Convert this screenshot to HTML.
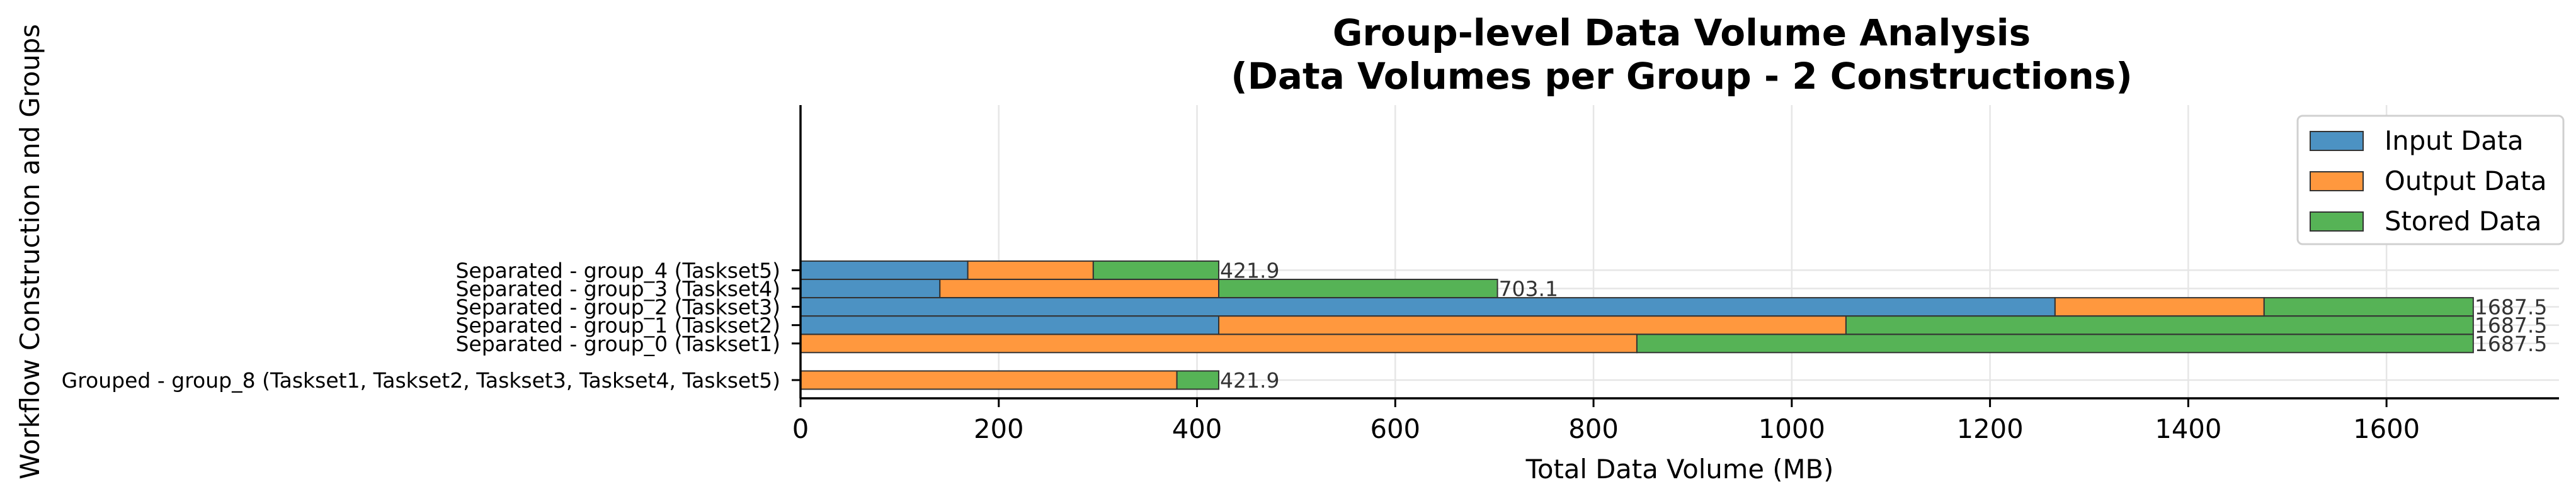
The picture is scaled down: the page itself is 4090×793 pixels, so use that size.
<!DOCTYPE html>
<html><head><meta charset="utf-8"><style>
html,body{margin:0;padding:0;background:#fff;}
svg{display:block;font-family:"DejaVu Sans","Liberation Sans",sans-serif;}
</style></head><body>
<svg id="chart" width="4090" height="793" xmlns="http://www.w3.org/2000/svg">
<g id="grid"></g>
<g id="bars"></g>
<g id="labels"></g>
<g id="axes"></g>
<text x="2670" y="72" font-size="58" font-weight="bold" text-anchor="middle">Group-level Data Volume Analysis</text>
<text x="2670" y="141" font-size="58" font-weight="bold" text-anchor="middle">(Data Volumes per Group - 2 Constructions)</text>
<text x="2667" y="760" font-size="41.7" text-anchor="middle">Total Data Volume (MB)</text>
<text transform="translate(62,400) rotate(-90)" font-size="41.7" text-anchor="middle">Workflow Construction and Groups</text>
<g>
<rect x="3648" y="184" width="422" height="204" rx="8" fill="#fff" stroke="#d0d0d0" stroke-width="3"/>
<rect x="3668" y="209" width="84" height="30" fill="#4c92c3" stroke="#333" stroke-width="2"/>
<text x="3786" y="238" font-size="41.7">Input Data</text>
<rect x="3668" y="273" width="84" height="30" fill="#ff983e" stroke="#333" stroke-width="2"/>
<text x="3786" y="302" font-size="41.7">Output Data</text>
<rect x="3668" y="337" width="84" height="30" fill="#56b356" stroke="#333" stroke-width="2"/>
<text x="3786" y="366" font-size="41.7">Stored Data</text>
</g>
</svg>
<script>
const categories = ["Grouped - group_8 (Taskset1, Taskset2, Taskset3, Taskset4, Taskset5)","Separated - group_0 (Taskset1)","Separated - group_1 (Taskset2)","Separated - group_2 (Taskset3)","Separated - group_3 (Taskset4)","Separated - group_4 (Taskset5)"];
const positions = [0,2,3,4,5,6];
const inputData = [0,0,421.9,1265.6,140.6,168.75];
const outputData = [379.7,843.75,632.8,210.9,281.3,126.6];
const storedData = [42.2,843.75,632.8,211.0,281.2,126.55];
const totalLabels = ["421.9","1687.5","1687.5","1687.5","703.1","421.9"];
const xTicks = [0,200,400,600,800,1000,1200,1400,1600];

const NS="http://www.w3.org/2000/svg";
const X0=1271, XR=4063, XMAX=1774, YB=633, YT=167;
function xs(v){return X0+v*(XR-X0)/XMAX;}
function ys(p){return 604-p*29.1;}
function mk(parent,tag,attrs){const e=document.createElementNS(NS,tag);for(const k in attrs)e.setAttribute(k,attrs[k]);parent.appendChild(e);return e;}
const grid=document.getElementById('grid'),bars=document.getElementById('bars'),labels=document.getElementById('labels'),axes=document.getElementById('axes');
xTicks.forEach(t=>{
  const g=mk(grid,'line',{x1:xs(t),x2:xs(t),y1:YT,y2:YB,stroke:'#e6e6e6','stroke-width':2.5});
  
  
  const tk=mk(axes,'line',{x1:xs(t),x2:xs(t),y1:YB,y2:YB+14,stroke:'#000','stroke-width':3});
  
  
  const tl=mk(axes,'text',{x:xs(t),y:YB+63,'font-size':41.7,'text-anchor':'middle'});
  tl.textContent=t;
  
  
});
positions.forEach((p,i)=>{
  const g=mk(grid,'line',{x1:X0,x2:XR,y1:ys(p),y2:ys(p),stroke:'#e6e6e6','stroke-width':2.5});
  
  
  const segs=[[inputData[i],'#4c92c3','input'],[outputData[i],'#ff983e','output'],[storedData[i],'#56b356','stored']];
  let acc=0;
  segs.forEach(s=>{
    if(s[0]>0){
      const r=mk(bars,'rect',{x:xs(acc),y:ys(p)-14.5,width:xs(acc+s[0])-xs(acc),height:29,fill:s[1],stroke:'#333','stroke-width':2});
      
      
    }
    acc+=s[0];
  });
  const vl=mk(labels,'text',{x:xs(acc)+2,y:ys(p)+12,'font-size':33,fill:'#333'});
  vl.textContent=totalLabels[i];
  
  
  const tk=mk(axes,'line',{x1:X0-14,x2:X0,y1:ys(p),y2:ys(p),stroke:'#000','stroke-width':3});
  
  
  const yl=mk(axes,'text',{x:X0-32,y:ys(p)+12,'font-size':33,'text-anchor':'end'});
  yl.textContent=categories[i];
  
  
});
const ax=mk(axes,'line',{x1:X0,x2:XR,y1:YB,y2:YB,stroke:'#000','stroke-width':3.5});


const ay=mk(axes,'line',{x1:X0,x2:X0,y1:YT,y2:YB,stroke:'#000','stroke-width':3.5});


</script>
</body></html>
